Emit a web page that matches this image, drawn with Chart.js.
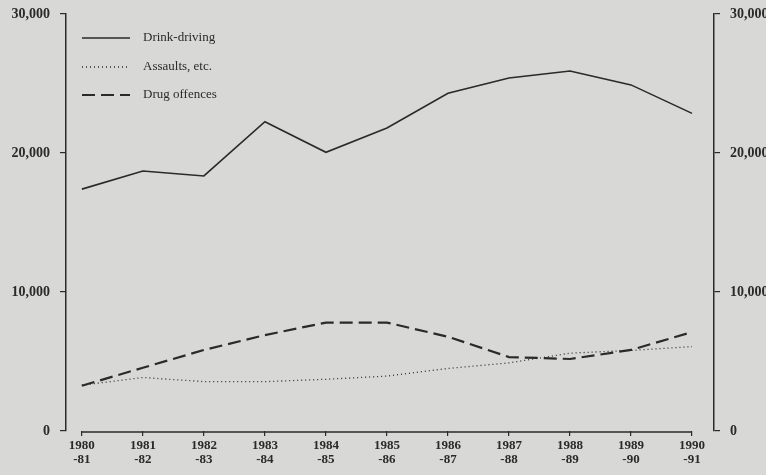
<!DOCTYPE html>
<html>
<head>
<meta charset="utf-8">
<script src="https://cdn.jsdelivr.net/npm/chart.js@4.4.1/dist/chart.umd.min.js"></script>
<style>
  html, body { margin: 0; padding: 0; background: #d8d8d6; }
  #wrap { width: 766px; height: 475px; position: relative; }
</style>
</head>
<body>
<div id="wrap"><canvas id="chart"></canvas></div>
<script>
// Data (offences per year)
const years = ['1980', '1981', '1982', '1983', '1984', '1985', '1986', '1987', '1988', '1989', '1990'];
const yearEnds = ['-81', '-82', '-83', '-84', '-85', '-86', '-87', '-88', '-89', '-90', '-91'];
const drinkDriving = [17400, 18700, 18350, 22250, 20050, 21800, 24300, 25400, 25900, 24900, 22850];
const assaults = [3300, 3850, 3550, 3550, 3720, 3950, 4500, 4900, 5600, 5800, 6070];
const drugOffences = [3260, 4550, 5830, 6900, 7800, 7800, 6780, 5320, 5180, 5830, 7120];
const yTicks = [0, 10000, 20000, 30000];

const ink = '#2a2a2a';
const serif = "'Liberation Serif', 'DejaVu Serif', serif";

const series = [
    { label: 'Drink-driving', data: drinkDriving, dash: [], width: 1.6 },
    { label: 'Assaults, etc.', data: assaults, dash: [1, 3], width: 1.3 },
    { label: 'Drug offences', data: drugOffences, dash: [13, 6], width: 2.2 }
];

// Legend drawn inside the plot, top left, plus the short x-axis line
const figurePlugin = {
    id: 'figure',
    afterDraw(chart) {
        const ctx = chart.ctx;
        const x = chart.scales.x;
        ctx.save();
        ctx.strokeStyle = ink;
        ctx.lineWidth = 1.5;
        ctx.beginPath();
        ctx.moveTo(x.getPixelForValue(0), chart.chartArea.bottom + 1);
        ctx.lineTo(x.getPixelForValue(years.length - 1), chart.chartArea.bottom + 1);
        ctx.stroke();

        ctx.font = '13px ' + serif;
        ctx.fillStyle = ink;
        ctx.textBaseline = 'middle';
        const rows = [38, 67, 95];
        chart.data.datasets.forEach((ds, i) => {
            ctx.setLineDash(ds.borderDash || []);
            ctx.lineWidth = ds.borderWidth;
            ctx.beginPath();
            ctx.moveTo(82, rows[i]);
            ctx.lineTo(130, rows[i]);
            ctx.stroke();
            ctx.setLineDash([]);
            ctx.fillText(ds.label, 143, rows[i]);
        });
        ctx.restore();
    }
};

const yAxis = (position, width) => ({
    type: 'linear',
    position: position,
    min: 0,
    max: 30000,
    afterFit: s => { s.width = width; s.paddingTop = 0; s.paddingBottom = 0; },
    afterBuildTicks: s => { s.ticks = yTicks.map(v => ({ value: v })); },
    border: { display: true, color: ink, width: 1.5 },
    grid: { drawOnChartArea: false, drawTicks: true, tickLength: 6, color: ink, lineWidth: 1.2 },
    ticks: {
        color: ink,
        padding: 10,
        font: { family: serif, size: 14, weight: 'bold' },
        callback: v => v.toLocaleString('en-US')
    }
});

new Chart(document.getElementById('chart'), {
    type: 'line',
    data: {
        datasets: series.map(s => ({
            label: s.label,
            data: s.data.map((v, i) => ({ x: i, y: v })),
            borderColor: ink,
            borderWidth: s.width,
            borderDash: s.dash,
            pointRadius: 0,
            tension: 0,
            fill: false
        }))
    },
    options: {
        responsive: true,
        maintainAspectRatio: false,
        animation: false,
        layout: { padding: { top: 14, left: 0, right: 0, bottom: 0 } },
        plugins: { legend: { display: false }, tooltip: { enabled: false } },
        scales: {
            x: {
                type: 'linear',
                min: -0.26,
                max: 10.36,
                afterFit: s => { s.height = 44; s.paddingLeft = 0; s.paddingRight = 0; },
                afterBuildTicks: s => { s.ticks = years.map((y, i) => ({ value: i })); },
                border: { display: false },
                grid: { drawOnChartArea: false, drawTicks: true, tickLength: 5, color: ink, lineWidth: 1.2 },
                ticks: {
                    color: ink,
                    padding: 3,
                    maxRotation: 0,
                    autoSkip: false,
                    font: { family: serif, size: 13, weight: 'bold', lineHeight: 1.05 },
                    callback: v => [years[v], yearEnds[v]]
                }
            },
            y: yAxis('left', 66),
            y2: yAxis('right', 52)
        }
    },
    plugins: [figurePlugin]
});
</script>
</body>
</html>
